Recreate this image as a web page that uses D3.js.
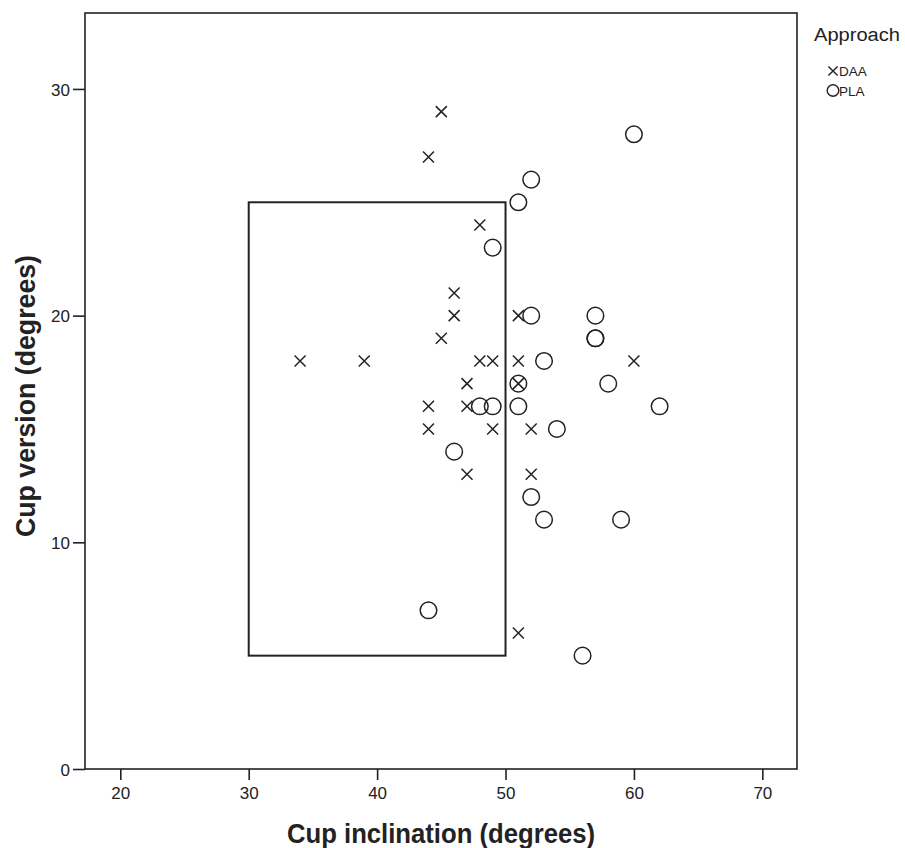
<!DOCTYPE html>
<html>
<head>
<meta charset="utf-8">
<script src="https://cdn.jsdelivr.net/npm/d3@7"></script>
<style>
  body { margin: 0; background: #fff; }
  svg { display: block; font-family: "Liberation Sans", Arial, sans-serif; }
</style>
</head>
<body>
<svg id="chart" width="905" height="848"></svg>
<script>
// DAA cases (crosses)
const daaInclination = [45, 44, 48, 46, 46, 51, 45, 34, 39, 48, 49, 51, 60, 47, 51, 44, 47, 44, 49, 52, 47, 52, 51];
const daaVersion     = [29, 27, 24, 21, 20, 20, 19, 18, 18, 18, 18, 18, 18, 17, 17, 16, 16, 15, 15, 15, 13, 13, 6];

// PLA cases (circles)
const plaInclination = [60, 52, 51, 49, 52, 57, 57, 57, 53, 51, 58, 48, 49, 51, 62, 54, 46, 52, 53, 59, 44, 56];
const plaVersion     = [28, 26, 25, 23, 20, 20, 19, 19, 18, 17, 17, 16, 16, 16, 16, 15, 14, 12, 11, 11, 7, 5];

// safe zone box (inclination 30-50, version 5-25)
const safeInclination = [30, 50];
const safeVersion = [5, 25];

const xTicks = [20, 30, 40, 50, 60, 70];
const yTicks = [0, 10, 20, 30];
const groups = ["DAA", "PLA"];

const svg = d3.select("#chart");
const ink = "#222";

const plotLeft = 85, plotRight = 797, plotTop = 13, plotBottom = 769;

const x = d3.scaleLinear().domain([17.25, 72.7]).range([plotLeft, plotRight]);
const y = d3.scaleLinear().domain([0, 33.35]).range([plotBottom, plotTop]);

// frame
svg.append("rect")
    .attr("x", plotLeft).attr("y", plotTop)
    .attr("width", plotRight - plotLeft).attr("height", plotBottom - plotTop)
    .attr("fill", "none").attr("stroke", ink).attr("stroke-width", 1.6);

// axes
const xAxis = svg.append("g")
    .attr("transform", `translate(0,${plotBottom})`)
    .call(d3.axisBottom(x).tickValues(xTicks).tickSize(11).tickPadding(7));
const yAxis = svg.append("g")
    .attr("transform", `translate(${plotLeft},0)`)
    .call(d3.axisLeft(y).tickValues(yTicks).tickSize(12).tickPadding(3));

[xAxis, yAxis].forEach(g => {
    g.select(".domain").remove();
    g.selectAll(".tick line").attr("stroke", ink).attr("stroke-width", 1.6);
    g.selectAll(".tick text")
        .attr("fill", ink)
        .style("font-size", "17px")
        .style("font-family", "'Liberation Sans', Arial, sans-serif");
});
yAxis.selectAll(".tick text").attr("dy", "0.36em");

// axis titles (condensed bold look)
svg.append("text")
    .attr("x", 441)
    .attr("y", 843)
    .attr("text-anchor", "middle")
    .attr("fill", ink)
    .attr("textLength", 308)
    .attr("lengthAdjust", "spacingAndGlyphs")
    .style("font-size", "28px")
    .style("font-weight", "bold")
    .text("Cup inclination (degrees)");

svg.append("text")
    .attr("transform", `translate(35,396) rotate(-90)`)
    .attr("text-anchor", "middle")
    .attr("fill", ink)
    .attr("textLength", 282)
    .attr("lengthAdjust", "spacingAndGlyphs")
    .style("font-size", "28px")
    .style("font-weight", "bold")
    .text("Cup version (degrees)");

// reference rectangle
svg.append("rect")
    .attr("x", x(safeInclination[0]))
    .attr("y", y(safeVersion[1]))
    .attr("width", x(safeInclination[1]) - x(safeInclination[0]))
    .attr("height", y(safeVersion[0]) - y(safeVersion[1]))
    .attr("fill", "none").attr("stroke", ink).attr("stroke-width", 2);

const cross = s => `M${-s},${-s}L${s},${s}M${-s},${s}L${s},${-s}`;

// PLA circles
const pla = plaInclination.map((d, i) => ({inc: d, ver: plaVersion[i]}));
svg.append("g").selectAll("circle")
    .data(pla)
    .enter()
    .append("circle")
        .attr("cx", d => x(d.inc))
        .attr("cy", d => y(d.ver))
        .attr("r", 8.3)
        .attr("fill", "none")
        .attr("stroke", ink)
        .attr("stroke-width", 1.5);

// DAA crosses
const daa = daaInclination.map((d, i) => ({inc: d, ver: daaVersion[i]}));
svg.append("g").selectAll("path")
    .data(daa)
    .enter()
    .append("path")
        .attr("transform", d => `translate(${x(d.inc)},${y(d.ver)})`)
        .attr("d", cross(5.5))
        .attr("fill", "none")
        .attr("stroke", ink)
        .attr("stroke-width", 1.5);

// legend
const legend = svg.append("g");
legend.append("text")
    .attr("x", 814).attr("y", 41)
    .attr("fill", ink)
    .attr("textLength", 86)
    .attr("lengthAdjust", "spacingAndGlyphs")
    .style("font-size", "18px")
    .text("Approach");

groups.forEach((g, i) => {
    const cy = 71 + i * 19.5;
    if (g === "DAA") {
        legend.append("path")
            .attr("transform", `translate(833,${cy})`)
            .attr("d", cross(4.6))
            .attr("stroke", ink).attr("stroke-width", 1.4).attr("fill", "none");
    } else {
        legend.append("circle")
            .attr("cx", 833).attr("cy", cy)
            .attr("r", 5.8)
            .attr("stroke", ink).attr("stroke-width", 1.4).attr("fill", "none");
    }
    legend.append("text")
        .attr("x", 839).attr("y", cy + 5)
        .attr("fill", ink)
        .style("font-size", "13.5px")
        .text(g);
});
</script>
</body>
</html>
